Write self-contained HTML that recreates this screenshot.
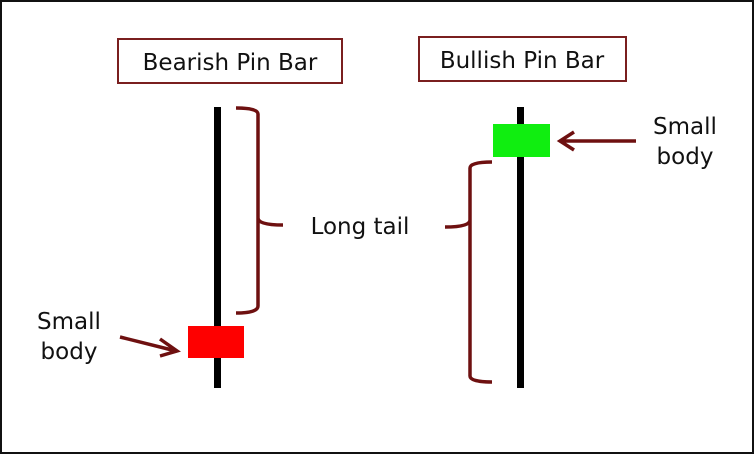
<!DOCTYPE html>
<html><head><style>
body{margin:0;background:#fff;}
svg{display:block;}
text{font-family:"DejaVu Sans","Liberation Sans",sans-serif;fill:#111;}
</style></head><body>
<svg width="755" height="455" viewBox="0 0 755 455" xmlns="http://www.w3.org/2000/svg">
<rect x="1" y="1" width="752" height="452" fill="#fff" stroke="#111" stroke-width="2"/>
<rect x="118" y="39" width="224" height="44" fill="#fff" stroke="#7a1f1f" stroke-width="2"/>
<text x="230" y="70" font-size="23" text-anchor="middle">Bearish Pin Bar</text>
<rect x="419" y="37" width="207" height="44" fill="#fff" stroke="#7a1f1f" stroke-width="2"/>
<text x="522" y="68" font-size="23" text-anchor="middle">Bullish Pin Bar</text>
<rect x="214" y="107" width="7" height="281" fill="#000"/>
<rect x="188" y="326" width="56" height="32" fill="#fe0000"/>
<rect x="517" y="107" width="7" height="281" fill="#000"/>
<rect x="493" y="124" width="57" height="33" fill="#10ee10"/>
<g fill="none" stroke="#6e1010" stroke-width="3.5">
<path d="M236 108 Q258 108 258 114 L258 218 Q258 225 283 225 M258 218 Q258 225 258 232 L258 306 Q258 313 236 313"/>
<path d="M492 162 Q470 162 470 168 L470 220 Q470 227 445 227 M470 220 Q470 227 470 234 L470 376 Q470 382 492 382"/>
<path d="M120 337 L176 351 M160 339 L177 351 L160 356"/>
<path d="M636 141 L560 141 M574 132 L560 141 L574 150"/>
</g>
<text x="360" y="234" font-size="23" text-anchor="middle">Long tail</text>
<text x="69" y="329" font-size="23" text-anchor="middle">Small</text>
<text x="69" y="359" font-size="23" text-anchor="middle">body</text>
<text x="685" y="134" font-size="23" text-anchor="middle">Small</text>
<text x="685" y="164" font-size="23" text-anchor="middle">body</text>
</svg>
</body></html>
